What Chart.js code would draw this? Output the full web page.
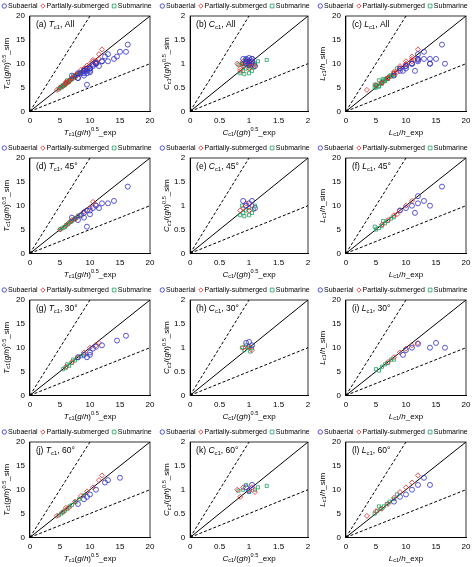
<!DOCTYPE html>
<html>
<head>
<script src="https://cdn.jsdelivr.net/npm/chart.js@4"></script>
<style>
body { margin: 0; background: #fff; }
.c { position: absolute; width: 158px; height: 142px; }
</style>
</head>
<body>
<div id="wrap"></div>
<script>
// series names and angle groups
const seriesNames = ["Subaerial", "Partially-submerged", "Submarine"];
const angleNames = ["All", "45°", "30°", "60°"];
const letters = ["a","b","c","d","e","f","g","h","i","j","k","l"];

// flat x,y pairs
const T45 = [
    [7,7.5, 8,7, 8.5,8, 9,8.5, 9.5,9, 10,9, 10.5,9.5, 11,10, 11.5,9.5, 12,10.5, 13,10.5, 14,11, 16.3,14, 9,7.5, 10,8.2, 9.5,5.6],
    [5,5, 6,5.8, 7,7, 8,7.8, 9,8.8, 10,9.5, 11,10.2, 7.5,7.2, 6.5,6.4, 10.5,10.8],
    [5,5, 5.3,5.2, 5.6,5.4, 6,5.9, 6.3,6.1, 6.6,6.5, 7,6.8, 7.3,7.1, 7.7,7.4, 8,7.8, 5.8,5.5, 6.8,6.6, 7.5,7.3, 8.3,8]
];
const T30 = [
    [8,8, 9,8.5, 10,9, 10.5,9.8, 11,10.2, 12,10.5, 14.5,11.5, 16,12.5, 9.5,8, 10,8.5],
    [6,6, 7,7, 8,8, 9,9, 10,10, 11,10.5, 11.5,11],
    [5.5,5.5, 6,5.8, 6.5,6.2, 7,6.8, 7.5,7.3, 8,7.8, 8.5,8.2, 9,8.6, 6.2,6.5, 7.2,7.5]
];
const T60 = [
    [8,7, 9,8, 10,9, 11,10, 12.5,11.5, 13,12, 15,12.5, 9.5,8.5],
    [4.5,4.5, 5.5,5.3, 6.5,6.2, 7.5,7.5, 8.5,8.7, 9.5,9.6, 10.5,10.5, 12,13, 11.5,12, 6,6.2],
    [4.8,4.6, 5.2,5, 5.8,5.6, 6.2,6, 7,6.8, 7.6,7.4, 8.2,8, 9,8.8, 6.6,6.5, 5.5,5.3]
];
const C45 = [
    [0.9,1.1, 1,1.05, 1.05,1.1, 0.95,1.0, 1.1,0.95],
    [0.85,0.9, 0.9,0.95, 1,0.9, 1.05,1, 0.95,1.05],
    [0.85,0.8, 0.9,0.85, 0.95,0.9, 1,0.95, 1.05,0.85, 1.1,1, 0.88,1.0, 1.0,0.8, 0.92,0.78, 1.08,0.92]
];
const C30 = [
    [0.95,1.1, 1.0,1.12, 1.05,1.05],
    [0.9,1.0, 1,1.02, 1.05,0.95],
    [0.88,1, 0.92,0.95, 0.98,1.0, 1.02,0.92, 1.05,1.0, 0.95,1.05]
];
const C60 = [
    [0.95,1.05, 1.05,1.1, 1.0,0.98],
    [0.8,1.0, 0.9,1.05, 1,1, 1.1,0.95, 0.85,0.85, 1.05,1.05],
    [0.9,1, 1,0.95, 1.1,1.0, 1.3,1.08, 1.15,1.05, 0.95,1.1, 0.82,0.98]
];
const L45 = [
    [9,9, 10,9.5, 11,10, 12,10.5, 13,11, 12,12, 14,10, 16,14, 11.5,8.5],
    [6,6, 7,7, 8,8, 9,9, 10,10, 11,11, 8.5,8.2],
    [5,5, 5.5,5.3, 6,5.8, 6.5,6.3, 7,6.8, 7.5,7.3, 8,7.6, 4.8,5.6, 6.2,6.8]
];
const L30 = [
    [10,9.5, 11,10, 12,10.8, 14,10, 15,11, 16.5,10, 9.5,8.5],
    [7,7, 8,8, 9,9, 10,9.8, 11,10.5, 12,11],
    [5,5.5, 5.5,5.2, 6,6, 6.5,6.5, 7,6.8, 7.5,7.5, 8,7.5]
];
const L60 = [
    [8,7.5, 9,8.5, 10,9, 11,10, 12,11, 13,12.5, 14,11],
    [3.5,4.5, 5,5.5, 6,6, 7,7, 8,8.3, 9,9.5, 10,10.5, 11,11.5, 12,13],
    [4.8,5, 5.2,5.5, 5.8,6, 6.3,6.5, 6.8,7, 7.3,7.5, 8,8, 8.5,9, 5.5,6.5]
];
function allOf(a, b, c) { return [0,1,2].map(i => a[i].concat(b[i], c[i])); }

const rows = [
    [allOf(T45,T30,T60), allOf(C45,C30,C60), allOf(L45,L30,L60)],
    [T45, C45, L45],
    [T30, C30, L30],
    [T60, C60, L60]
];
const vars = ["T", "C", "L"];
const axisMax = [20, 2, 20];
const axisStep = [5, 0.5, 5];

const colors = ["#3030c8", "#e02828", "#20a060"];
const styles = ["circle", "rectRot", "rect"];

function axisSegs(v, end) {
    if (v === "T") return [["T","i"],["c1","sub"],["(",""],["g","i"],["/",""],["h","i"],[")",""],["0.5","sup"],[end,""]];
    if (v === "C") return [["C","i"],["c1","sub"],["/(",""],["gh","i"],[")",""],["0.5","sup"],[end,""]];
    return [["L","i"],["c1","sub"],["/",""],["h","i"],[end,""]];
}

function fontFor(kind, size) {
    if (kind === "sub" || kind === "sup") return (size * 0.7) + "px Arial";
    if (kind === "i") return "italic " + size + "px Arial";
    return size + "px Arial";
}

function drawRich(ctx, segs, x, y, size, align) {
    let w = 0;
    segs.forEach(s => { ctx.font = fontFor(s[1], size); w += ctx.measureText(s[0]).width; });
    let cx = align === "center" ? x - w / 2 : x;
    ctx.textBaseline = "middle";
    ctx.textAlign = "left";
    ctx.fillStyle = "#000";
    segs.forEach(s => {
        ctx.font = fontFor(s[1], size);
        let dy = s[1] === "sub" ? size * 0.25 : (s[1] === "sup" ? -size * 0.35 : 0);
        ctx.fillText(s[0], cx, y + dy);
        cx += ctx.measureText(s[0]).width;
    });
}

function marker(ctx, i, x, y, r) {
    ctx.strokeStyle = colors[i];
    ctx.lineWidth = 0.8;
    ctx.beginPath();
    if (i === 0) ctx.arc(x, y, r, 0, Math.PI * 2);
    else if (i === 1) { ctx.moveTo(x, y - r); ctx.lineTo(x + r, y); ctx.lineTo(x, y + r); ctx.lineTo(x - r, y); ctx.closePath(); }
    else ctx.rect(x - r * 0.85, y - r * 0.85, r * 1.7, r * 1.7);
    ctx.stroke();
}

const decor = {
    id: "decor",
    afterDraw(chart) {
        const o = chart.options.plugins.decor;
        const a = chart.chartArea;
        const ctx = chart.ctx;
        ctx.save();
        ctx.strokeStyle = "#000";
        ctx.lineWidth = 0.8;
        ctx.strokeRect(a.left, a.top, a.right - a.left, a.bottom - a.top);
        // legend on one line
        let lx = 2;
        ctx.font = "7px Arial";
        seriesNames.forEach((n, i) => {
            marker(ctx, i, lx + 2.3, 6, 2.2);
            ctx.fillStyle = "#000";
            ctx.textBaseline = "middle";
            ctx.textAlign = "left";
            ctx.fillText(n, lx + 6, 6.5);
            lx += 6 + ctx.measureText(n).width + 3;
        });
        drawRich(ctx, o.label, a.left + 6, a.top + 9, 8.5, "left");
        drawRich(ctx, axisSegs(o.v, "_exp"), (a.left + a.right) / 2, a.bottom + 21, 8, "center");
        ctx.translate(a.left - 23, (a.top + a.bottom) / 2);
        ctx.rotate(-Math.PI / 2);
        drawRich(ctx, axisSegs(o.v, "_sim"), 0, 0, 8, "center");
        ctx.restore();
    }
};

function toPts(flat) {
    let out = [];
    for (let i = 0; i < flat.length; i += 2) out.push({ x: flat[i], y: flat[i + 1] });
    return out;
}

const wrap = document.getElementById("wrap");
rows.forEach((row, r) => {
    row.forEach((sets, c) => {
        const idx = r * 3 + c;
        const m = axisMax[c];
        const cv = document.createElement("canvas");
        const div = document.createElement("div");
        div.className = "c";
        div.style.left = (c * 158) + "px";
        div.style.top = (r * 142) + "px";
        div.appendChild(cv);
        wrap.appendChild(div);

        let datasets = sets.map((s, i) => ({
            label: seriesNames[i],
            data: toPts(s),
            pointStyle: styles[i],
            pointRadius: i === 2 ? 2.2 : 2.5,
            borderColor: colors[i],
            backgroundColor: "rgba(0,0,0,0)",
            pointBorderWidth: 0.8,
            showLine: false
        }));
        const lineSet = (pts, dash) => ({
            label: "", data: pts, showLine: true, pointRadius: 0,
            borderColor: "#000", borderWidth: 1, borderDash: dash
        });
        datasets.push(lineSet([{x:0,y:0},{x:m,y:m}], []));
        datasets.push(lineSet([{x:0,y:0},{x:m/2,y:m}], [3,2]));
        datasets.push(lineSet([{x:0,y:0},{x:m,y:m/2}], [3,2]));

        const sc = () => ({
            type: "linear", min: 0, max: m,
            ticks: { stepSize: axisStep[c], color: "#000", font: { size: 8, family: "Arial" }, padding: 2,
                     callback: v => String(+v.toFixed(2)) },
            grid: { display: false, drawTicks: true, tickLength: 3, tickColor: "#000" },
            border: { display: true, color: "#000" }
        });
        new Chart(cv, {
            type: "scatter",
            data: { datasets: datasets },
            options: {
                responsive: true, maintainAspectRatio: false, animation: false,
                layout: { padding: { left: 14, bottom: 14, right: 8, top: 16 } },
                scales: { x: sc(), y: sc() },
                plugins: {
                    legend: { display: false },
                    tooltip: { enabled: false },
                    decor: {
                        v: vars[c],
                        label: [["(" + letters[idx] + ") ",""],[vars[c],"i"],["c1","sub"],[", " + angleNames[r],""]]
                    }
                }
            },
            plugins: [decor]
        });
    });
});
</script>
</body>
</html>
